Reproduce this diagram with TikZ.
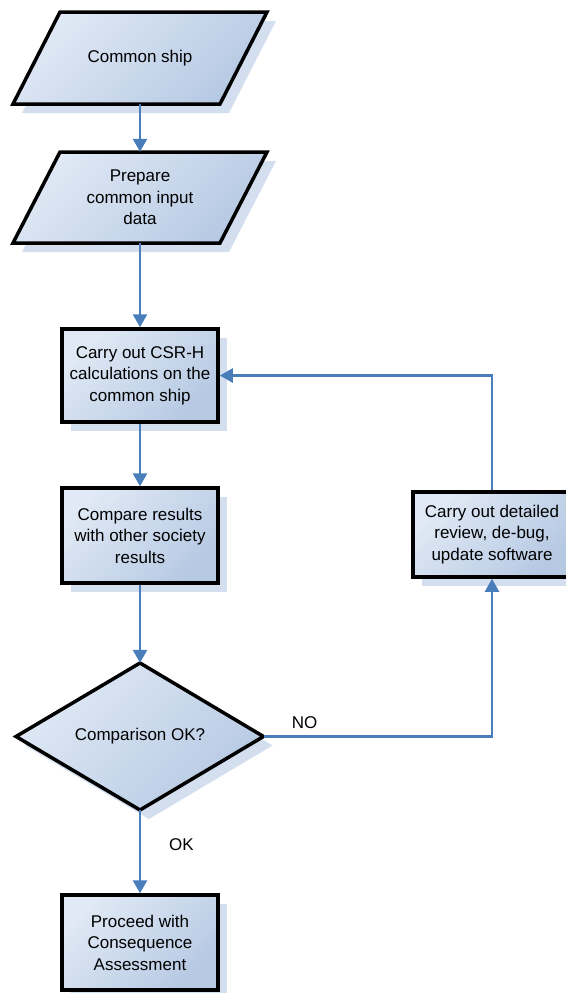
\documentclass[tikz,border=0pt]{standalone}
\usepackage{fontspec}
\setmainfont{Liberation Sans}
\usetikzlibrary{shadows,arrows.meta}
\definecolor{lineblue}{HTML}{4A7EBB}
\definecolor{fillA}{HTML}{E0E9F5}
\definecolor{fillB}{HTML}{B6C9E3}
\definecolor{shadowc}{HTML}{D3DEEF}
\tikzset{
  shapefill/.style={top color=fillA, bottom color=fillB, shading angle=45},
  outline/.style={draw=black, line width=3.5pt, line join=miter},
  procbox/.style={shapefill, outline, rectangle, minimum width=156pt, align=center,
    inner sep=2pt, drop shadow={shadow xshift=9pt, shadow yshift=-9pt, fill=shadowc, opacity=1}},
  anchorbox/.style={rectangle, inner sep=0pt, align=center},
  conn/.style={draw=lineblue, line width=2.5pt},
  arr/.style={conn, -{Triangle[width=14pt,length=13pt]}},
  lbl/.style={inner sep=0pt}
}
\begin{document}
\begin{tikzpicture}[x=1pt,y=-1pt,font=\fontsize{17}{21.5}\selectfont]
\useasboundingbox (0,0) rectangle (565,993);
% parallelogram 1
\fill[shadowc, shift={(9,9)}] (60,12)--(267,12)--(220,104)--(13,104)--cycle;
\path[shapefill, outline] (60,12)--(267,12)--(220,104)--(13,104)--cycle;
\node[anchorbox, minimum width=207pt, minimum height=92pt] (ship) at (140,58) {Common ship};
% parallelogram 2
\fill[shadowc, shift={(9,9)}] (60,152)--(267,152)--(220,243)--(13,243)--cycle;
\path[shapefill, outline] (60,152)--(267,152)--(220,243)--(13,243)--cycle;
\node[anchorbox, minimum width=207pt, minimum height=91pt] (prep) at (140,197.5) {Prepare\\common input\\data};
% process boxes
\node[procbox, minimum height=93pt] (csr) at (140,375.5) {Carry out CSR-H\\calculations on the\\common ship};
\node[procbox, minimum height=95pt] (cmp) at (140,535.5) {Compare results\\with other society\\results};
\node[procbox, minimum width=158pt, minimum height=85pt] (rev) at (492,534.5) {Carry out detailed\\review, de-bug,\\update software};
% diamond
\fill[shadowc, shift={(9,9)}] (16,736.5)--(140,663)--(263.5,736.5)--(140,810)--cycle;
\path[shapefill, outline] (16,736.5)--(140,663)--(263.5,736.5)--(140,810)--cycle;
\node[anchorbox, minimum width=247.5pt, minimum height=147pt] (dec) at (140,736.5) {Comparison OK?};
% final box
\node[procbox, minimum height=95pt] (fin) at (140,942.5) {Proceed with\\Consequence\\Assessment};
% connectors
\draw[arr] (ship.south) -- (prep.north);
\draw[arr] (prep.south) -- (csr.north);
\draw[arr] (csr.south) -- (cmp.north);
\draw[arr] (cmp.south) -- (dec.north);
\draw[arr] (dec.south) -- (fin.north);
\draw[arr] (dec.east) -| (rev.south);
\draw[arr] (rev.north) |- (csr.east);
% labels
\node[lbl] (nolbl) at (304.5,723) {NO};
\node[lbl] (oklbl) at (181.5,845) {OK};
\end{tikzpicture}
\end{document}
